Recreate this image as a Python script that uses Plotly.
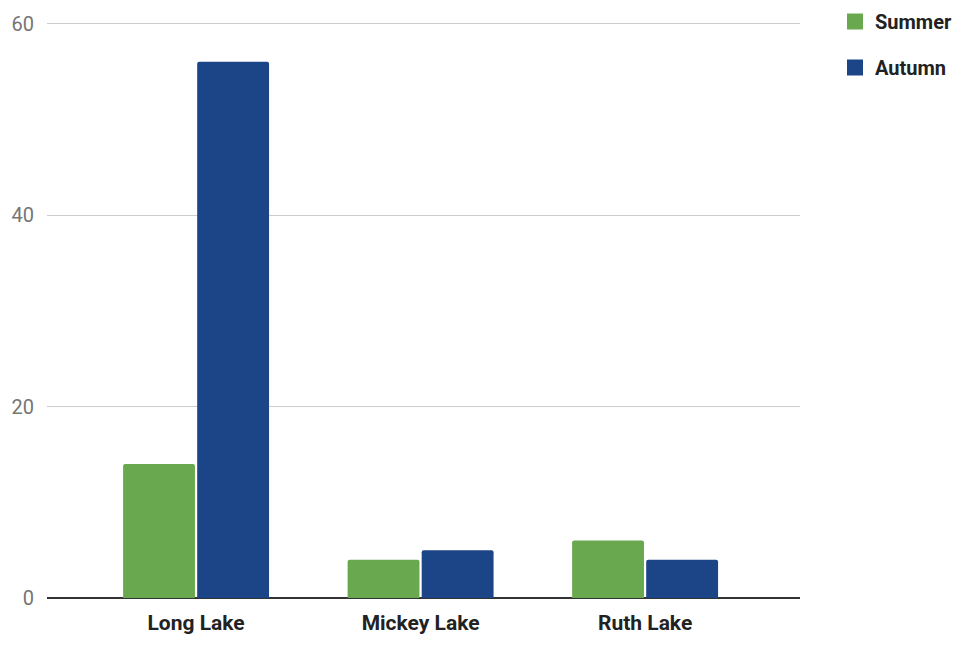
import plotly.graph_objects as go

categories = ["Long Lake", "Mickey Lake", "Ruth Lake"]
summer = [14, 4, 6]
autumn = [56, 5, 4]
y_ticks = [0, 20, 40, 60]
series_names = ["Summer", "Autumn"]

GREEN = "#6aa84f"
BLUE = "#1c4587"
colors = [GREEN, BLUE]

fig = go.Figure()
fig.add_trace(go.Bar(name="Summer", x=categories, y=summer, showlegend=False,
                     marker=dict(color=GREEN, line=dict(width=0))))
fig.add_trace(go.Bar(name="Autumn", x=categories, y=autumn, showlegend=False,
                     marker=dict(color=BLUE, line=dict(width=0))))
# legend entries with larger square swatches
for name, col in zip(series_names, colors):
    fig.add_trace(go.Scatter(name=name, x=[None], y=[None], mode="markers", legendgroup=name,
                             marker=dict(symbol="square", size=20, color=col)))

fig.update_layout(
    width=965, height=648,
    margin=dict(l=45, r=165, t=12, b=50),
    paper_bgcolor="white", plot_bgcolor="white",
    barmode="group", bargap=0.34, bargroupgap=0.03, barcornerradius=2,
    font=dict(family="Roboto", size=20, color="#222222"),
    legend=dict(
        x=835 / 965, xref="container", xanchor="left",
        y=1 - 2 / 648, yref="container", yanchor="top",
        font=dict(family="Roboto", size=20, color="#222222", weight="bold"),
        itemsizing="trace", tracegroupgap=17, bgcolor="rgba(0,0,0,0)",
    ),
    showlegend=True,
)
fig.update_xaxes(
    range=[-0.664, 2.69], showgrid=False, ticks="", showline=False,
    tickfont=dict(family="Roboto", size=21, color="#222222", weight="bold"),
    ticklabelstandoff=10,
)
fig.update_yaxes(
    range=[0, 61], tickvals=y_ticks, showgrid=True, gridcolor="#cccccc", gridwidth=1,
    zeroline=True, zerolinecolor="#333333", zerolinewidth=1.5, showline=False, ticks="",
    tickfont=dict(family="Roboto", size=20, color="#757575"),
    ticklabelstandoff=12,
)

fig.write_html("out.html")
